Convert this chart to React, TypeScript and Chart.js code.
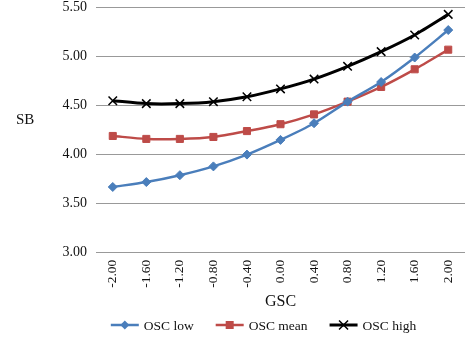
import React, { useEffect, useRef } from "react";
import { Chart, registerables } from "chart.js";

Chart.register(...registerables);

const categories = ["-2.00", "-1.60", "-1.20", "-0.80", "-0.40", "0.00", "0.40", "0.80", "1.20", "1.60", "2.00"];
const oscLow = [3.67, 3.72, 3.79, 3.88, 4.0, 4.15, 4.32, 4.54, 4.74, 4.99, 5.27];
const oscMean = [4.19, 4.16, 4.16, 4.18, 4.24, 4.31, 4.41, 4.54, 4.69, 4.87, 5.07];
const oscHigh = [4.55, 4.52, 4.52, 4.54, 4.59, 4.67, 4.77, 4.9, 5.05, 5.22, 5.43];
const seriesNames = ["OSC low", "OSC mean", "OSC high"];
const yTitle = "SB";
const xTitle = "GSC";

const FONT = "'Liberation Serif', 'Times New Roman', serif";
const COLORS = ["#4a7ebb", "#be4b48", "#000000"];
const STYLES = ["rectRot", "rect", "crossRot"];
const LWS = [2.5, 2.5, 3];

function drawMarker(ctx: CanvasRenderingContext2D, style: string, color: string, cx: number, cy: number) {
  ctx.fillStyle = color;
  ctx.strokeStyle = color;
  if (style === "rectRot") {
    ctx.beginPath();
    ctx.moveTo(cx, cy - 4.5);
    ctx.lineTo(cx + 4.5, cy);
    ctx.lineTo(cx, cy + 4.5);
    ctx.lineTo(cx - 4.5, cy);
    ctx.closePath();
    ctx.fill();
  } else if (style === "rect") {
    ctx.fillRect(cx - 4, cy - 4, 8, 8);
  } else {
    ctx.lineWidth = 1.5;
    ctx.beginPath();
    ctx.moveTo(cx - 4.5, cy - 4.5);
    ctx.lineTo(cx + 4.5, cy + 4.5);
    ctx.moveTo(cx + 4.5, cy - 4.5);
    ctx.lineTo(cx - 4.5, cy + 4.5);
    ctx.stroke();
  }
}

const extras = {
  id: "extras",
  afterDraw(chart: any) {
    const ctx: CanvasRenderingContext2D = chart.ctx;
    ctx.save();
    // horizontal y-axis title
    ctx.font = `15px ${FONT}`;
    ctx.fillStyle = "#111";
    ctx.textAlign = "left";
    ctx.textBaseline = "middle";
    ctx.fillText(yTitle, 16, 120);
    // legend
    ctx.font = `13.5px ${FONT}`;
    const lineW = 28;
    const gapText = 5;
    const gapItem = 22;
    const widths = seriesNames.map((n) => ctx.measureText(n).width);
    const total = widths.reduce((a, w) => a + lineW + gapText + w, 0) + gapItem * (seriesNames.length - 1);
    const cxCenter = (chart.chartArea.left + chart.chartArea.right) / 2 - 17;
    let x = cxCenter - total / 2;
    const y = 325;
    seriesNames.forEach((n, i) => {
      ctx.strokeStyle = COLORS[i];
      ctx.lineWidth = LWS[i];
      ctx.beginPath();
      ctx.moveTo(x, y);
      ctx.lineTo(x + lineW, y);
      ctx.stroke();
      drawMarker(ctx, STYLES[i], COLORS[i], x + lineW / 2, y);
      ctx.fillStyle = "#111";
      ctx.textAlign = "left";
      ctx.textBaseline = "middle";
      ctx.fillText(n, x + lineW + gapText, y + 1);
      x += lineW + gapText + widths[i] + gapItem;
    });
    ctx.restore();
  },
};

export default function App() {
  const ref = useRef<HTMLCanvasElement>(null);
  useEffect(() => {
    document.body.style.margin = "0";
    const data = [oscLow, oscMean, oscHigh];
    const chart = new Chart(ref.current!, {
      type: "line",
      data: {
        labels: categories,
        datasets: data.map((d, i) => ({
          label: seriesNames[i],
          data: d,
          borderColor: COLORS[i],
          backgroundColor: COLORS[i],
          borderWidth: LWS[i],
          pointStyle: STYLES[i] as any,
          pointRadius: i === 2 ? 6 : i === 1 ? 5 : 4.5,
          pointBorderWidth: i === 2 ? 1.5 : 1,
          tension: 0.25,
          fill: false,
        })),
      },
      options: {
        animation: false,
        responsive: false,
        layout: { padding: { top: 7, right: 9, left: 0, bottom: 28 } },
        plugins: {
          tooltip: { enabled: false },
          legend: { display: false },
        },
        scales: {
          x: {
            offset: true,
            grid: { display: false, drawTicks: false, offset: true },
            border: { display: false },
            afterFit: (s: any) => {
              s.paddingLeft = 0;
              s.paddingRight = 0;
              s.height = s.height - 8;
            },
            ticks: {
              font: { family: FONT, size: 13.5 },
              color: "#111",
              minRotation: 90,
              maxRotation: 90,
              padding: 7,
            },
            title: {
              display: true,
              text: xTitle,
              font: { family: FONT, size: 16 },
              color: "#111",
              padding: { top: 5, bottom: 0 },
            },
          },
          y: {
            min: 3,
            max: 5.5,
            afterFit: (s: any) => {
              s.width = 96;
              s.paddingTop = 0;
              s.paddingBottom = 0;
            },
            grid: { color: "#999", lineWidth: 1, drawTicks: false },
            border: { display: false },
            ticks: {
              stepSize: 0.5,
              font: { family: FONT, size: 14 },
              color: "#111",
              padding: 9,
              callback: (v: any) => Number(v).toFixed(2),
            },
          },
        },
      },
      plugins: [extras],
    });
    return () => chart.destroy();
  }, []);
  return <canvas ref={ref} width={474} height={339} style={{ display: "block" }} />;
}
